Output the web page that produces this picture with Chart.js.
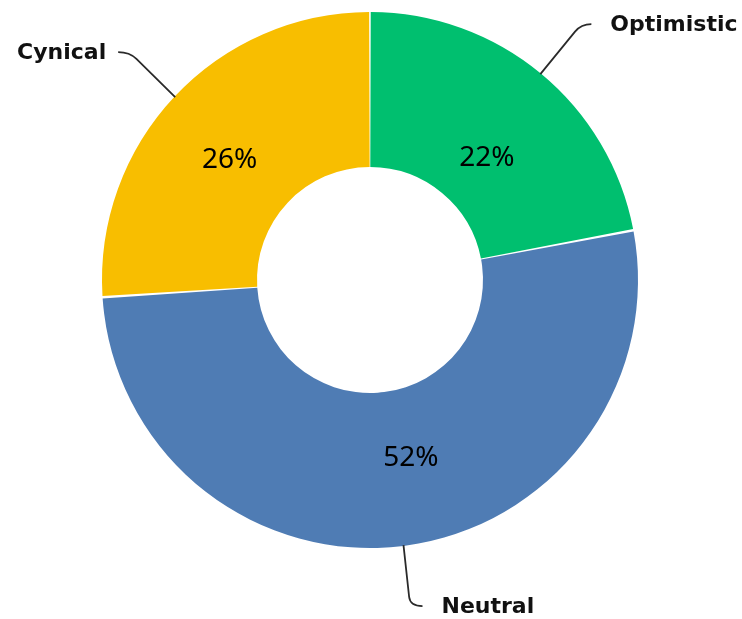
<!DOCTYPE html>
<html>
<head>
<meta charset="utf-8">
<script src="https://cdn.jsdelivr.net/npm/chart.js@4/dist/chart.umd.min.js"></script>
<style>
  html, body { margin: 0; padding: 0; background: #fff; }
  #wrap { width: 742px; height: 619px; }
</style>
</head>
<body>
<div id="wrap"><canvas id="donut"></canvas></div>
<script>
const moods = ['Optimistic', 'Neutral', 'Cynical']
const shares = [22, 52, 26]
const moodColors = ['#00BF6F', '#4F7CB4', '#F8BE00']

// where each slice's percent text sits relative to the ring's mid radius
const pctNudge = [[-4, 24], [17, -10], [-2, 10]]
// where each leader line ends relative to the slice's outer edge, and text side
const calloutEnd = [[51, -50, 'left'], [19, 61, 'left'], [-57, -45, 'right']]

const sliceLabels = {
  id: 'sliceLabels',
  afterDatasetsDraw (chart) {
    const { ctx } = chart
    const arcs = chart.getDatasetMeta(0).data
    ctx.save()
    arcs.forEach((arc, i) => {
      const { x, y, startAngle, endAngle, innerRadius, outerRadius } = arc.getProps(
        ['x', 'y', 'startAngle', 'endAngle', 'innerRadius', 'outerRadius'], true)
      const mid = (startAngle + endAngle) / 2
      const cos = Math.cos(mid)
      const sin = Math.sin(mid)

      // percent inside the ring
      const r = (innerRadius + outerRadius) / 2
      ctx.fillStyle = '#000'
      ctx.font = '28px "Noto Sans"'
      ctx.textAlign = 'center'
      ctx.textBaseline = 'middle'
      ctx.fillText(shares[i] + '%', x + cos * r + pctNudge[i][0], y + sin * r + pctNudge[i][1])

      // leader line from the outer edge out to the category name
      const sx = x + cos * outerRadius
      const sy = y + sin * outerRadius
      const [dx, dy, side] = calloutEnd[i]
      const ex = sx + dx
      const ey = sy + dy
      // bend point: the line runs mostly straight, then turns sideways into the text
      const bx = i === 1 ? sx + dx * 0.35 : sx + dx * 0.8
      const by = ey
      ctx.strokeStyle = '#2a2a2a'
      ctx.lineWidth = 1.8
      ctx.beginPath()
      ctx.moveTo(sx, sy)
      ctx.lineTo(sx + (bx - sx) * 0.85, sy + (by - sy) * 0.85)
      ctx.quadraticCurveTo(bx, by, ex, ey)
      ctx.stroke()

      ctx.font = 'bold 22px "DejaVu Sans"'
      ctx.fillStyle = '#111'
      ctx.textAlign = side
      ctx.fillText(moods[i], side === 'left' ? ex + 19 : ex - 12, ey + 1)
    })
    ctx.restore()
  }
}

// eslint-disable-next-line no-unused-vars, no-undef
const chart = new Chart(document.querySelector('#donut'), {
  type: 'doughnut',
  data: {
    labels: moods,
    datasets: [{
      data: shares,
      backgroundColor: moodColors,
      borderWidth: 0,
      spacing: 1.5
    }]
  },
  options: {
    responsive: true,
    maintainAspectRatio: false,
    animation: false,
    cutout: '42%',
    layout: { padding: { left: 102, right: 104, top: 12, bottom: 71 } },
    plugins: {
      legend: { display: false },
      tooltip: { enabled: false }
    }
  },
  plugins: [sliceLabels]
})
</script>
</body>
</html>
